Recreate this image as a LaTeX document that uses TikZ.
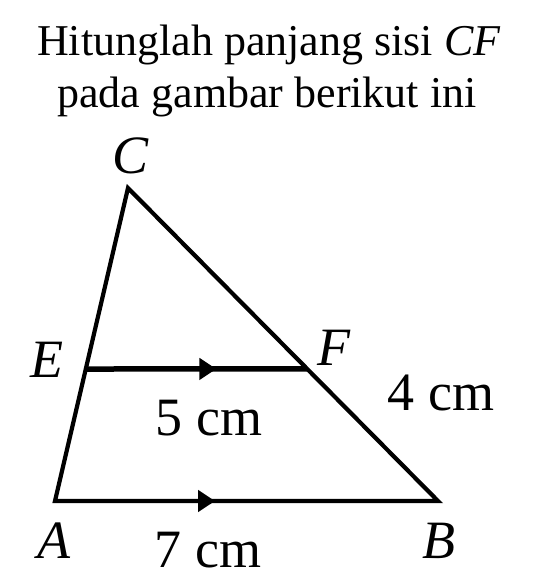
\documentclass[tikz,border=0pt]{standalone}
\usepackage{fontspec}
\setmainfont{Liberation Serif}
\usetikzlibrary{calc,arrows.meta,decorations.markings}
\begin{document}
\begin{tikzpicture}[x=1pt,y=-1pt,
  title/.style={anchor=base,inner sep=0pt,font=\fontsize{44}{52}\selectfont},
  lbl/.style={anchor=base,inner sep=0pt,font=\fontsize{54}{60}\selectfont},
  side/.style={line width=4.2pt,line join=miter},
  par/.style={line width=5.5pt},
  tipmark/.style={postaction={decorate,decoration={markings,
     mark=at position #1 with {\arrow{Triangle[length=17pt,width=21pt]}}}}}
]
\useasboundingbox (0,0) rectangle (540,587);
\node[title] (t1) at (269,55) {Hitunglah panjang sisi \textit{CF}};
\node[title] (t2) at (267,107) {pada gambar berikut ini};
\coordinate (A) at (55,501);
\coordinate (B) at (438,501);
\coordinate (C) at (128,188);
\coordinate (E) at ($(A)!0.4217!(C)$);
\coordinate (F) at ($(C)!0.578!(B)$);
\draw[side] (B) -- (A) -- (C) -- cycle;
\draw[side,tipmark=0.418] (A) -- (B);
\draw[par,tipmark=0.59] (E) -- (F);
\node[lbl] (lC) at (131,173) {\itshape C};
\node[lbl] (lE) at (47,377) {\itshape E};
\node[lbl] (lF) at (334,365) {\itshape F};
\node[lbl] (lA) at (54,558) {\itshape A};
\node[lbl] (lB) at (439,558) {\itshape B};
\node[lbl] (l5) at (209,435) {5 cm};
\node[lbl] (l4) at (441,410) {4 cm};
\node[lbl] (l7) at (208,567) {7 cm};
\end{tikzpicture}
\end{document}
